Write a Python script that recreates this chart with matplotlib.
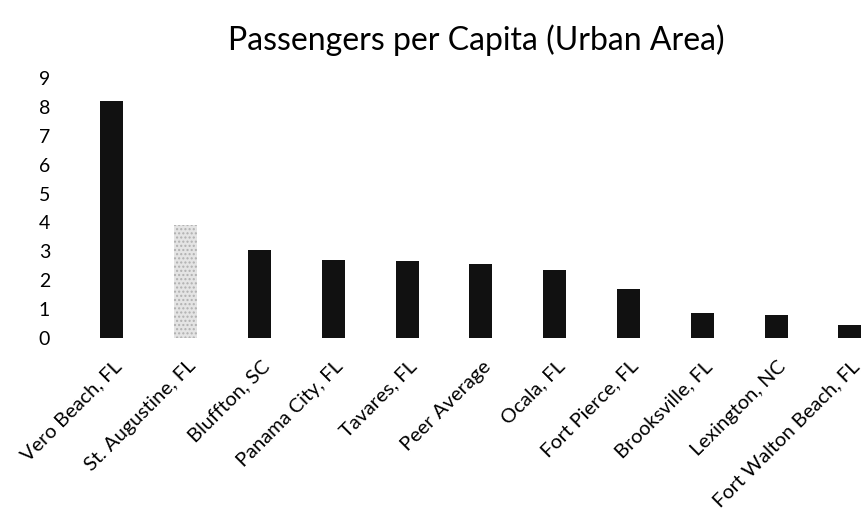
import matplotlib
matplotlib.use("Agg")
import matplotlib.pyplot as plt
from matplotlib.transforms import ScaledTranslation

cities = [
    "Vero Beach, FL", "St. Augustine, FL", "Bluffton, SC", "Panama City, FL",
    "Tavares, FL", "Peer Average", "Ocala, FL", "Fort Pierce, FL",
    "Brooksville, FL", "Lexington, NC", "Fort Walton Beach, FL",
]
per_capita = [8.2, 3.9, 3.05, 2.7, 2.65, 2.55, 2.35, 1.7, 0.88, 0.78, 0.45]
highlight = "St. Augustine, FL"

plt.rcParams["font.family"] = ["Lato", "DejaVu Sans"]

fig = plt.figure(figsize=(8.64, 5.2), dpi=100)
ax = fig.add_axes([75 / 864, 0.35, 789 / 864, 0.50])

x = list(range(len(cities)))
colors = ["#e4e4e4" if c == highlight else "#111111" for c in cities]
bars = ax.bar(x, per_capita, width=0.31, color=colors)
for b, c in zip(bars, cities):
    if c == highlight:
        b.set_hatch("....")
        b.set_edgecolor("#b0b0b0")
        b.set_linewidth(0)

ax.set_xlim(-0.5, -0.5 + 789 / 73.8)
ax.set_ylim(0, 9)
ax.set_yticks(range(10))
ax.set_xticks(x)
ax.set_xticklabels(cities, rotation=45, ha="right", rotation_mode="anchor", fontsize=14.5)
ax.tick_params(axis="y", labelsize=14, length=0, pad=18)
ax.tick_params(axis="x", length=0, pad=14)
# nudge rotated labels a little right, like the original
shift = ScaledTranslation(1 / 100, 0, fig.dpi_scale_trans)
for lbl in ax.get_xticklabels():
    lbl.set_transform(lbl.get_transform() + shift)
for s in ax.spines.values():
    s.set_visible(False)

fig.text(0.551, 0.922, "Passengers per Capita (Urban Area)", ha="center", va="center", fontsize=23)

fig.savefig("out.png", dpi=100)
